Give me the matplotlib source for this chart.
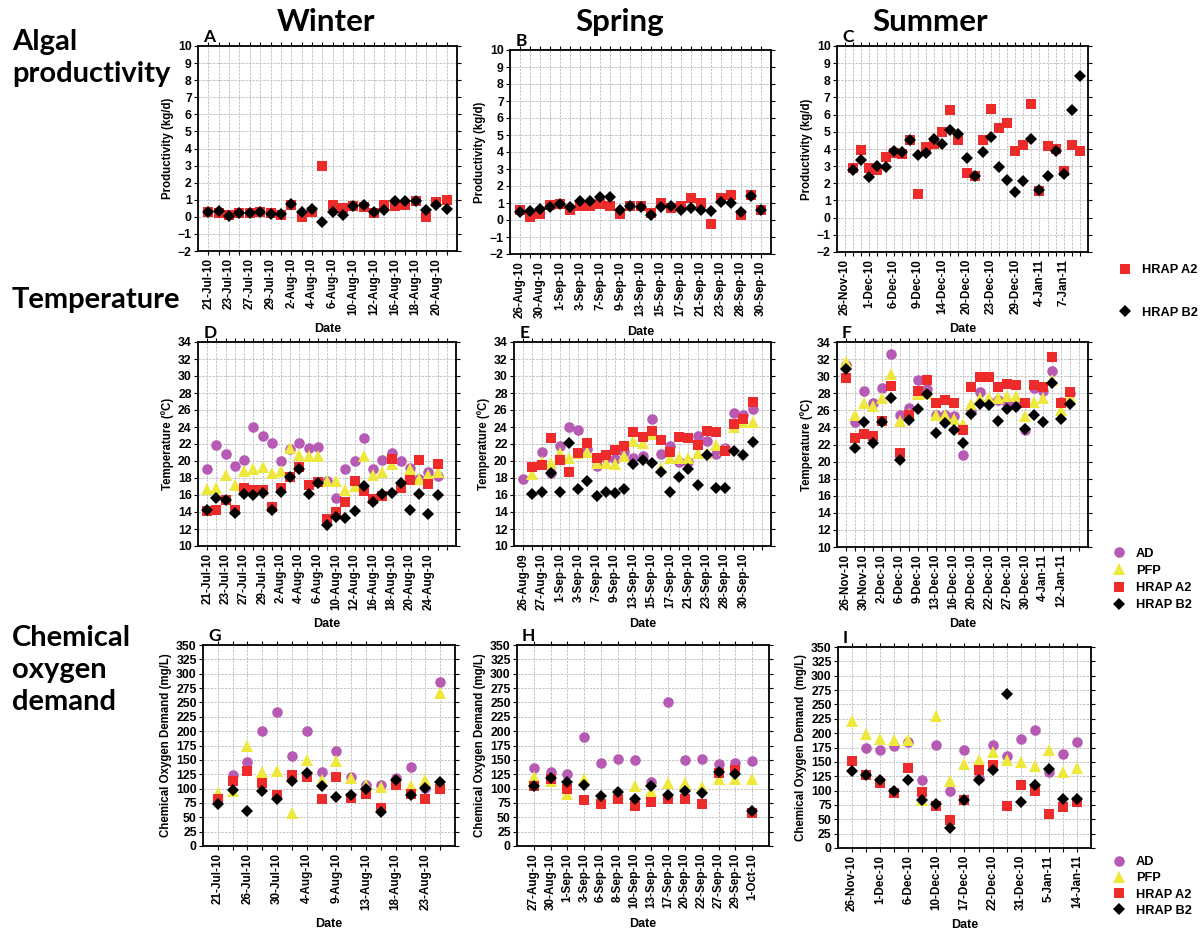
import numpy as np
import matplotlib.pyplot as plt

plt.rcParams["font.family"] = ["Liberation Sans", "DejaVu Sans"]
plt.rcParams["font.weight"] = "bold"
plt.rcParams["axes.labelweight"] = "bold"

nan = np.nan

# ---------------- Algal productivity (kg/d) ----------------
a_dates = ["21-Jul-10", "23-Jul-10", "27-Jul-10", "29-Jul-10", "2-Aug-10", "4-Aug-10",
           "6-Aug-10", "10-Aug-10", "12-Aug-10", "16-Aug-10", "18-Aug-10", "20-Aug-10"]
a_a2 = [0.3, 0.2, 0.1, 0.25, 0.25, 0.3, 0.25, 0.1, 0.7, 0.0, 0.3, 3.0,
        0.7, 0.5, 0.65, 0.6, 0.2, 0.7, 0.65, 0.7, 0.9, 0.0, 0.85, 1.0]
a_b2 = [0.3, 0.35, 0.05, 0.2, 0.25, 0.3, 0.15, 0.15, 0.75, 0.3, 0.45, -0.3,
        0.3, 0.1, 0.65, 0.7, 0.3, 0.4, 0.95, 0.95, 0.9, 0.4, 0.7, 0.45]

b_dates = ["26-Aug-10", "30-Aug-10", "1-Sep-10", "3-Sep-10", "7-Sep-10", "9-Sep-10", "13-Sep-10",
           "15-Sep-10", "17-Sep-10", "21-Sep-10", "23-Sep-10", "28-Sep-10", "30-Sep-10"]
b_a2 = [0.6, 0.2, 0.35, 0.9, 0.95, 0.6, 0.85, 0.85, 0.95, 0.85, 0.35, 0.85, 0.8,
        0.4, 1.0, 0.7, 0.85, 1.3, 1.0, -0.25, 1.3, 1.45, 0.3, 1.5, 0.6]
b_b2 = [0.45, 0.55, 0.65, 0.75, 0.95, 0.75, 1.1, 1.1, 1.35, 1.35, 0.6, 0.85, 0.75,
        0.3, 0.75, 0.8, 0.6, 0.7, 0.6, 0.55, 1.05, 1.0, 0.45, 1.4, 0.6]

c_dates = ["26-Nov-10", "1-Dec-10", "6-Dec-10", "9-Dec-10", "14-Dec-10", "20-Dec-10",
           "23-Dec-10", "29-Dec-10", "4-Jan-11", "7-Jan-11"]
c_a2 = [nan, 2.9, 3.95, 2.9, 2.8, 3.55, 3.75, 3.7, 4.55, 1.4, 4.1, 4.3, 5.0, 6.25, 4.55,
        2.6, 2.4, 4.5, 6.35, 5.2, 5.5, 3.9, 4.25, 6.65, 1.55, 4.15, 4.0, 2.7, 4.25, 3.9]
c_b2 = [nan, 2.8, 3.35, 2.35, 3.0, 2.95, 3.9, 3.85, 4.55, 3.65, 3.75, 4.6, 4.3, 5.1, 4.85,
        3.5, 2.4, 3.85, 4.7, 2.95, 2.2, 1.5, 2.15, 4.6, 1.6, 2.45, 3.9, 2.55, 6.25, 8.25]

# ---------------- Temperature (C) ----------------
d_dates = ["21-Jul-10", "23-Jul-10", "27-Jul-10", "29-Jul-10", "2-Aug-10", "4-Aug-10", "6-Aug-10",
           "10-Aug-10", "12-Aug-10", "16-Aug-10", "18-Aug-10", "20-Aug-10", "24-Aug-10"]
d_ad = [19.1, 21.9, 20.8, 19.4, 20.1, 24.0, 22.9, 22.1, 20.0, 21.4, 22.1, 21.5, 21.7,
        17.6, 15.7, 19.1, 20.0, 22.7, 19.1, 20.1, 21.0, 20.0, 19.2, 17.9, 18.7, 18.2]
d_pfp = [16.7, 16.8, 18.35, 17.2, 18.8, 19.05, 19.3, 18.6, 18.8, 21.5, 20.7, 20.6, 20.6,
         17.6, 17.6, 16.6, 17.0, 20.6, 18.3, 18.7, 19.7, 17.0, 19.1, 17.9, 18.4, 18.7]
d_a2 = [14.1, 14.2, 15.4, 14.2, 16.8, 16.6, 16.6, 14.6, 16.8, 18.1, 19.3, 17.2, 17.5,
        13.2, 14.0, 15.2, 17.7, 16.5, 15.5, 15.9, 20.2, 16.8, 17.8, 20.1, 17.3, 19.6]
d_b2 = [14.2, 15.7, 15.4, 13.9, 16.1, 16.0, 16.2, 14.2, 16.4, 18.1, 19.1, 16.1, 17.4,
        12.5, 13.4, 13.3, 14.1, 17.0, 15.2, 16.1, 16.2, 17.4, 14.2, 16.1, 13.8, 16.0]

e_dates = ["26-Aug-09", "27-Aug-10", "1-Sep-10", "3-Sep-10", "7-Sep-10", "9-Sep-10", "13-Sep-10",
           "15-Sep-10", "17-Sep-10", "21-Sep-10", "23-Sep-10", "28-Sep-10", "30-Sep-10"]
e_ad = [17.9, nan, 21.1, 18.6, 21.8, 24.0, 23.6, 21.4, 19.4, 20.3, 20.2, 21.1, 20.4,
        20.6, 25.0, 20.8, 21.8, 19.9, 19.9, 23.0, 22.4, 20.8, 21.5, 25.7, 25.4, 26.1]
e_pfp = [nan, 18.5, 19.9, 19.8, 20.9, 20.4, 21.0, 21.1, 19.8, 19.8, 19.7, 20.6, 22.4,
         22.1, 23.2, 19.2, 20.4, 20.4, 20.4, 21.0, 20.9, 21.9, 21.3, 24.0, 24.6, 24.6]
e_a2 = [nan, 19.3, 19.5, 22.7, 20.1, 18.7, 21.0, 22.1, 20.4, 20.7, 21.3, 21.8, 23.4,
        22.8, 23.5, 22.5, 21.1, 22.8, 22.7, 21.9, 23.5, 23.4, 21.2, 24.4, 25.0, 27.0]
e_b2 = [nan, 16.1, 16.3, 18.6, 16.4, 22.1, 16.7, 17.6, 15.9, 16.4, 16.2, 16.7, 19.6,
        20.1, 19.8, 18.7, 16.4, 18.1, 19.1, 17.2, 20.7, 16.8, 16.8, 21.2, 20.7, 22.2]

f_dates = ["26-Nov-10", "30-Nov-10", "2-Dec-10", "6-Dec-10", "9-Dec-10", "13-Dec-10", "16-Dec-10",
           "20-Dec-10", "22-Dec-10", "27-Dec-10", "30-Dec-10", "4-Jan-11", "12-Jan-11"]
f_ad = [31.3, 24.6, 28.3, 26.9, 28.6, 32.6, 25.5, 26.3, 29.5, 28.5, 25.4, 25.4, 25.3,
        20.8, 25.9, 28.1, 27.0, 27.2, 26.9, 26.8, 23.7, 28.6, 28.3, 30.6, 27.0, 28.0]
f_pfp = [31.7, 25.5, 26.9, 26.5, 27.5, 30.2, 24.8, 25.6, 27.9, 28.0, 25.4, 25.4, 25.0,
         24.4, 26.8, 27.5, 27.5, 27.4, 27.7, 27.7, 25.3, 27.0, 27.5, 29.5, 26.0, 27.6]
f_a2 = [29.8, 22.8, 23.2, 23.0, 24.7, 28.9, 21.0, 25.4, 28.3, 29.5, 26.9, 27.2, 26.9,
        23.7, 28.7, 29.9, 29.9, 28.7, 29.1, 29.0, 26.9, 29.0, 28.7, 32.3, 26.9, 28.2]
f_b2 = [30.8, 21.6, 24.6, 22.2, 24.6, 27.5, 20.2, 24.9, 26.2, 27.9, 23.4, 24.5, 23.7,
        22.2, 25.6, 26.8, 26.6, 24.8, 26.2, 26.4, 23.8, 25.5, 24.6, 29.2, 25.0, 26.7]

# ---------------- Chemical oxygen demand (mg/L) ----------------
g_dates = ["21-Jul-10", "26-Jul-10", "30-Jul-10", "4-Aug-10", "9-Aug-10", "13-Aug-10",
           "18-Aug-10", "23-Aug-10"]
g_ad = [nan, 124, 147, 201, 234, 157, 201, 128, 165, 120, 106, 107, 118, 137, 101, 286]
g_pfp = [92, 95, 175, 128, 131, 57, 150, 115, 148, 118, 107, 102, 117, 104, 115, 267]
g_a2 = [82, 114, 130, 109, 88, 123, 120, 81, 120, 84, 91, 66, 106, 91, 82, 99]
g_b2 = [73, 97, 61, 95, 81, 113, 127, 105, 85, 88, 99, 60, 115, 88, 101, 111]

h_dates = ["27-Aug-10", "30-Aug-10", "1-Sep-10", "3-Sep-10", "6-Sep-10", "8-Sep-10", "10-Sep-10",
           "13-Sep-10", "17-Sep-10", "20-Sep-10", "22-Sep-10", "27-Sep-10", "29-Sep-10", "1-Oct-10"]
h_ad = [135, 128, 125, 190, 145, 152, 149, 112, 250, 149, 152, 143, 145, 148]
h_pfp = [120, 113, 91, 117, 87, 90, 104, 95, 109, 110, 102, 117, 117, 116]
h_a2 = [105, 117, 100, 80, 74, 81, 70, 77, 82, 81, 74, 127, 133, 57]
h_b2 = [104, 118, 111, 106, 87, 94, 82, 104, 89, 95, 92, 128, 125, 61]

i_dates = ["26-Nov-10", "1-Dec-10", "6-Dec-10", "10-Dec-10", "17-Dec-10", "22-Dec-10",
           "31-Dec-10", "5-Jan-11", "14-Jan-11"]
i_ad = [nan, 175, 171, 178, 185, 118, 180, 99, 171, 122, 180, 161, 190, 205, 132, 163, 185]
i_pfp = [221, 199, 189, 188, 188, 84, 230, 117, 146, 154, 167, 154, 150, 143, 171, 132, 140]
i_a2 = [151, 127, 113, 96, 139, 98, 73, 49, 83, 136, 145, 73, 109, 100, 60, 71, 80]
i_b2 = [134, 127, 119, 100, 118, 83, 76, 34, 83, 118, 135, 268, 80, 110, 138, 85, 85]

# series styles
styles = {
    "AD": dict(marker="o", color="#b65ab4", ms=7.6),
    "PFP": dict(marker="^", color="#eee83c", ms=8.4),
    "HRAP A2": dict(marker="s", color="#ee2b2b", ms=7.8),
    "HRAP B2": dict(marker="D", color="black", ms=6.2),
}

W, H = 1204, 931
fig = plt.figure(figsize=(W / 100, H / 100), dpi=100)


def rect(l, t, r, b):
    return [l / W, 1 - b / H, (r - l) / W, (b - t) / H]


def panel(box, letter, dates, step, npos, series, ylim, yticks, ylabel):
    ax = fig.add_axes(rect(*box))
    handles = []
    for name, vals in series:
        st = styles[name]
        h, = ax.plot(np.arange(len(vals)), vals, ls="none", marker=st["marker"],
                     color=st["color"], ms=st["ms"], mew=0, zorder=3, label=name,
                     clip_on=False)
        handles.append(h)
    ticks = np.arange(npos)
    labels = [""] * npos
    for i, d in enumerate(dates):
        labels[i * step] = d
    ax.set_xticks(ticks)
    ax.set_xticklabels(labels, rotation=90, fontsize=8.4, fontweight="bold")
    ax.set_xlim(-1, npos)
    ax.set_ylim(*ylim)
    ax.set_yticks(yticks)
    ax.tick_params(axis="y", labelsize=8.8, length=3, width=0.8, pad=1.5)
    ax.tick_params(axis="x", length=3, width=0.8, pad=2)
    ax.tick_params(which="both", top=True, right=True)
    for lab in ax.get_yticklabels():
        lab.set_fontweight("bold")
    ax.grid(True, color="#c4c4c4", lw=0.7, ls=(0, (2.5, 1.2)), zorder=0)
    ax.set_axisbelow(True)
    for s in ax.spines.values():
        s.set_linewidth(1.3)
    ax.set_xlabel("Date", fontsize=9, fontweight="bold", labelpad=6)
    ax.set_ylabel(ylabel, fontsize=8.3, fontweight="bold", labelpad=3)
    ax.text(0.02, 1.005, letter, transform=ax.transAxes, ha="left", va="bottom",
            fontsize=12.5, fontweight="bold", family=["Lato", "DejaVu Sans"])
    return handles


prod_y = (-2, 10)
prod_t = np.arange(-2, 11, 1)
temp_y = (10, 34)
temp_t = np.arange(10, 35, 2)
cod_y = (0, 350)
cod_t = np.arange(0, 351, 25)

h1 = panel((198, 46, 457, 251), "A", a_dates, 2, 24,
           [("HRAP A2", a_a2), ("HRAP B2", a_b2)], prod_y, prod_t, "Productivity (kg/d)")
panel((510, 50, 771, 254), "B", b_dates, 2, 25,
      [("HRAP A2", b_a2), ("HRAP B2", b_b2)], prod_y, prod_t, "Productivity (kg/d)")
panel((837, 46, 1088, 252), "C", c_dates, 3, 30,
      [("HRAP A2", c_a2), ("HRAP B2", c_b2)], prod_y, prod_t, "Productivity (kg/d)")

h2 = panel((198, 342, 456, 546), "D", d_dates, 2, 27,
           [("AD", d_ad), ("PFP", d_pfp), ("HRAP A2", d_a2), ("HRAP B2", d_b2)],
           temp_y, temp_t, "Temperature (ºC)")
panel((514, 342, 771, 546), "E", e_dates, 2, 27,
      [("AD", e_ad), ("PFP", e_pfp), ("HRAP A2", e_a2), ("HRAP B2", e_b2)],
      temp_y, temp_t, "Temperature (ºC)")
panel((837, 342, 1088, 547), "F", f_dates, 2, 27,
      [("AD", f_ad), ("PFP", f_pfp), ("HRAP A2", f_a2), ("HRAP B2", f_b2)],
      temp_y, temp_t, "Temperature (ºC)")

h3 = panel((203, 645, 455, 846), "G", g_dates, 2, 16,
           [("AD", g_ad), ("PFP", g_pfp), ("HRAP A2", g_a2), ("HRAP B2", g_b2)],
           cod_y, cod_t, "Chemical Oxygen Demand (mg/L)")
panel((517, 645, 769, 846), "H", h_dates, 1, 14,
      [("AD", h_ad), ("PFP", h_pfp), ("HRAP A2", h_a2), ("HRAP B2", h_b2)],
      cod_y, cod_t, "Chemical Oxygen Demand (mg/L)")
panel((838, 647, 1091, 848), "I", i_dates, 2, 17,
      [("AD", i_ad), ("PFP", i_pfp), ("HRAP A2", i_a2), ("HRAP B2", i_b2)],
      cod_y, cod_t, "Chemical Oxygen Demand  (mg/L)")

# legends
leg_kw = dict(loc="center left", frameon=False, borderpad=0, handlelength=1.2,
              handletextpad=0.7, prop=dict(size=9.2, weight="bold"))
fig.legend(handles=h1, labels=[h.get_label() for h in h1],
           bbox_to_anchor=(1111 / W, 1 - 291.5 / H), labelspacing=2.4, **leg_kw)
fig.legend(handles=h2, labels=[h.get_label() for h in h2],
           bbox_to_anchor=(1105 / W, 1 - 579.5 / H), labelspacing=0.4, **leg_kw)
fig.legend(handles=h3, labels=[h.get_label() for h in h3],
           bbox_to_anchor=(1105 / W, 1 - 886.5 / H), labelspacing=0.33, **leg_kw)

# column titles and row labels
big = dict(fontsize=21, fontweight="bold", family=["Lato", "DejaVu Sans"])
fig.text(326 / W, 1 - 22 / H, "Winter", ha="center", va="center",
         fontsize=22.5, fontweight="bold", family=["Lato", "DejaVu Sans"])
fig.text(620 / W, 1 - 22 / H, "Spring", ha="center", va="center",
         fontsize=22.5, fontweight="bold", family=["Lato", "DejaVu Sans"])
fig.text(930 / W, 1 - 22 / H, "Summer", ha="center", va="center",
         fontsize=22.5, fontweight="bold", family=["Lato", "DejaVu Sans"])

fig.text(12 / W, 1 - 58 / H, "Algal\nproductivity", ha="left", va="center",
         linespacing=1.25, **big)
fig.text(12 / W, 1 - 300 / H, "Temperature", ha="left", va="center", **big)
fig.text(12 / W, 1 - 670 / H, "Chemical\noxygen\ndemand", ha="left", va="center",
         linespacing=1.3, **big)

fig.savefig("out.png", dpi=100)
